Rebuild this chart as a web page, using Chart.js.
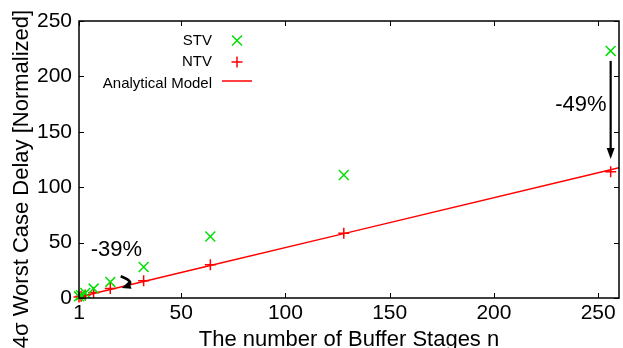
<!DOCTYPE html>
<html>
<head>
<meta charset="utf-8">
<script src="https://cdn.jsdelivr.net/npm/chart.js@4.4.1/dist/chart.umd.min.js"></script>
<style>
  html, body { margin: 0; padding: 0; background: #fff; }
  #wrap { width: 623px; height: 348px; }
</style>
</head>
<body>
<div id="wrap"><canvas id="c" width="623" height="348"></canvas></div>
<script>
// Buffer stage counts and normalized 4-sigma worst case delays
const stages = [1, 2, 4, 8, 16, 32, 64, 128, 256];
const stvDelay = [1.5, 2.5, 4.5, 8.5, 14.5, 28, 55.5, 111, 223];
const ntvDelay = [0.9, 1.5, 2.6, 5, 8.5, 15.5, 30, 58.5, 114];
const modelStages = [1, 2, 4, 8, 16, 32, 64, 128, 256, 260];
const modelDelay = [0.9, 1.4, 2.3, 4.1, 7.7, 14.9, 29.3, 58.1, 115.7, 117.5];
const xTickValues = [1, 50, 100, 150, 200, 250];
const yTickValues = [0, 50, 100, 150, 200, 250];

// Reduction callouts, placed in data coordinates
const reductionLabels = [
  { text: '-49%', n: 254, v: 174, align: 'right' },
  { text: '-39%', n: 6.6, v: 43.5, align: 'left' }
];
const straightArrow = { n: 256, from: 214, to: 125.5 };
const curvedArrow = { start: [21, 19.6], ctrl: [29, 14], end: [21.5, 9] };

const FONT = "'Liberation Sans', Arial, Helvetica, sans-serif";
const GREEN = '#00e000';
const RED = '#ff0000';

const toXY = (d) => stages.map((s, i) => ({ x: s, y: d[i] }));

const frame = {
  id: 'frame',
  afterDraw(chart) {
    const { ctx, chartArea: a, scales: { x, y } } = chart;
    ctx.save();
    // border box
    ctx.strokeStyle = '#000';
    ctx.lineWidth = 1.5;
    ctx.strokeRect(a.left, a.top, a.right - a.left, a.bottom - a.top);
    // inward ticks on all four sides
    ctx.lineWidth = 1;
    ctx.beginPath();
    const tl = 5;
    xTickValues.forEach(v => {
      const px = Math.round(x.getPixelForValue(v)) + 0.5;
      ctx.moveTo(px, a.bottom); ctx.lineTo(px, a.bottom - tl);
      ctx.moveTo(px, a.top); ctx.lineTo(px, a.top + tl);
    });
    yTickValues.forEach(v => {
      const py = Math.round(y.getPixelForValue(v)) + 0.5;
      ctx.moveTo(a.left, py); ctx.lineTo(a.left + tl, py);
      ctx.moveTo(a.right, py); ctx.lineTo(a.right - tl, py);
    });
    ctx.stroke();

    // y axis title
    ctx.fillStyle = '#000';
    ctx.font = '22px ' + FONT;
    ctx.textAlign = 'center';
    ctx.textBaseline = 'middle';
    ctx.translate(22, 179);
    ctx.rotate(-Math.PI / 2);
    ctx.fillText('4\u03c3 Worst Case Delay [Normalized]', 0, 0);
    ctx.restore();

    // reduction labels
    ctx.save();
    ctx.fillStyle = '#000';
    ctx.font = '22px ' + FONT;
    ctx.textBaseline = 'middle';
    reductionLabels.forEach(l => {
      ctx.textAlign = l.align;
      ctx.fillText(l.text, x.getPixelForValue(l.n), y.getPixelForValue(l.v));
    });

    // straight arrow
    const ax = x.getPixelForValue(straightArrow.n);
    const ay0 = y.getPixelForValue(straightArrow.from);
    const ay1 = y.getPixelForValue(straightArrow.to);
    ctx.strokeStyle = '#000';
    ctx.lineWidth = 2.2;
    ctx.beginPath();
    ctx.moveTo(ax, ay0); ctx.lineTo(ax, ay1 - 8);
    ctx.stroke();
    ctx.beginPath();
    ctx.moveTo(ax, ay1); ctx.lineTo(ax - 4, ay1 - 11); ctx.lineTo(ax + 4, ay1 - 11);
    ctx.closePath(); ctx.fill();

    // curved arrow
    const p0 = [x.getPixelForValue(curvedArrow.start[0]), y.getPixelForValue(curvedArrow.start[1])];
    const pc = [x.getPixelForValue(curvedArrow.ctrl[0]), y.getPixelForValue(curvedArrow.ctrl[1])];
    const p1 = [x.getPixelForValue(curvedArrow.end[0]), y.getPixelForValue(curvedArrow.end[1])];
    ctx.lineWidth = 2.6;
    ctx.beginPath();
    ctx.moveTo(p0[0], p0[1]);
    ctx.quadraticCurveTo(pc[0], pc[1], p1[0] + 3, p1[1] - 1);
    ctx.stroke();
    const ang = Math.atan2(p1[1] - pc[1], p1[0] - pc[0]);
    ctx.save();
    ctx.translate(p1[0], p1[1]);
    ctx.rotate(ang);
    ctx.beginPath();
    ctx.moveTo(0, 0); ctx.lineTo(-9, -4); ctx.lineTo(-9, 4);
    ctx.closePath(); ctx.fill();
    ctx.restore();
    ctx.restore();

    // key
    ctx.save();
    ctx.font = '15px ' + FONT;
    ctx.fillStyle = '#000';
    ctx.textAlign = 'right';
    ctx.textBaseline = 'middle';
    const tx = a.left + 133, sx = a.left + 158;
    const rows = [a.top + 19.5, a.top + 41, a.top + 62];
    chart.data.datasets.forEach((ds, i) => {
      const ry = rows[i];
      ctx.fillText(ds.label, tx, ry + (i === 2 ? 1 : 0));
      ctx.strokeStyle = ds.borderColor;
      ctx.lineWidth = 1.5;
      ctx.beginPath();
      if (ds.pointStyle === 'crossRot') {
        ctx.moveTo(sx - 5, ry - 5); ctx.lineTo(sx + 5, ry + 5);
        ctx.moveTo(sx - 5, ry + 5); ctx.lineTo(sx + 5, ry - 5);
      } else if (ds.pointStyle === 'cross') {
        ctx.moveTo(sx - 5.5, ry); ctx.lineTo(sx + 5.5, ry);
        ctx.moveTo(sx, ry - 5.5); ctx.lineTo(sx, ry + 5.5);
      } else {
        ctx.moveTo(sx - 15, ry - 2); ctx.lineTo(sx + 15, ry - 2);
      }
      ctx.stroke();
    });
    ctx.restore();
  }
};

new Chart(document.getElementById('c'), {
  type: 'scatter',
  data: {
    datasets: [
      {
        label: 'STV',
        data: toXY(stvDelay),
        pointStyle: 'crossRot',
        pointRadius: 7,
        pointBorderWidth: 1.5,
        borderColor: GREEN,
        backgroundColor: GREEN,
        showLine: false,
        clip: false
      },
      {
        label: 'NTV',
        data: toXY(ntvDelay),
        pointStyle: 'cross',
        pointRadius: 5.5,
        pointBorderWidth: 1.5,
        borderColor: RED,
        backgroundColor: RED,
        showLine: false,
        clip: false
      },
      {
        label: 'Analytical Model',
        data: modelStages.map((s, i) => ({ x: s, y: modelDelay[i] })),
        showLine: true,
        pointRadius: 0,
        borderColor: RED,
        borderWidth: 1.5,
        pointStyle: 'line'
      }
    ]
  },
  options: {
    responsive: false,
    animation: false,
    layout: { autoPadding: false, padding: { top: 21, right: 4, left: 0, bottom: 0 } },
    plugins: { legend: { display: false }, tooltip: { enabled: false } },
    scales: {
      x: {
        type: 'linear',
        min: 1,
        max: 260,
        afterBuildTicks: (s) => { s.ticks = xTickValues.map(v => ({ value: v })); },
        afterFit: (s) => { s.height = 50; s.paddingLeft = 0; s.paddingRight = 0; },
        grid: { display: false, drawTicks: false },
        border: { display: false },
        ticks: { color: '#000', font: { family: FONT, size: 21 }, padding: 3, maxRotation: 0 },
        title: {
          display: true,
          text: 'The number of Buffer Stages n',
          color: '#000',
          font: { family: FONT, size: 22, lineHeight: 1 },
          padding: { top: 0, bottom: -3 }
        }
      },
      y: {
        type: 'linear',
        min: 0,
        max: 250,
        afterBuildTicks: (s) => { s.ticks = yTickValues.map(v => ({ value: v })); },
        afterFit: (s) => { s.width = 79; s.paddingTop = 0; s.paddingBottom = 0; },
        grid: { display: false, drawTicks: false },
        border: { display: false },
        ticks: { color: '#000', font: { family: FONT, size: 21 }, padding: 7 }
      }
    }
  },
  plugins: [frame]
});
</script>
</body>
</html>
